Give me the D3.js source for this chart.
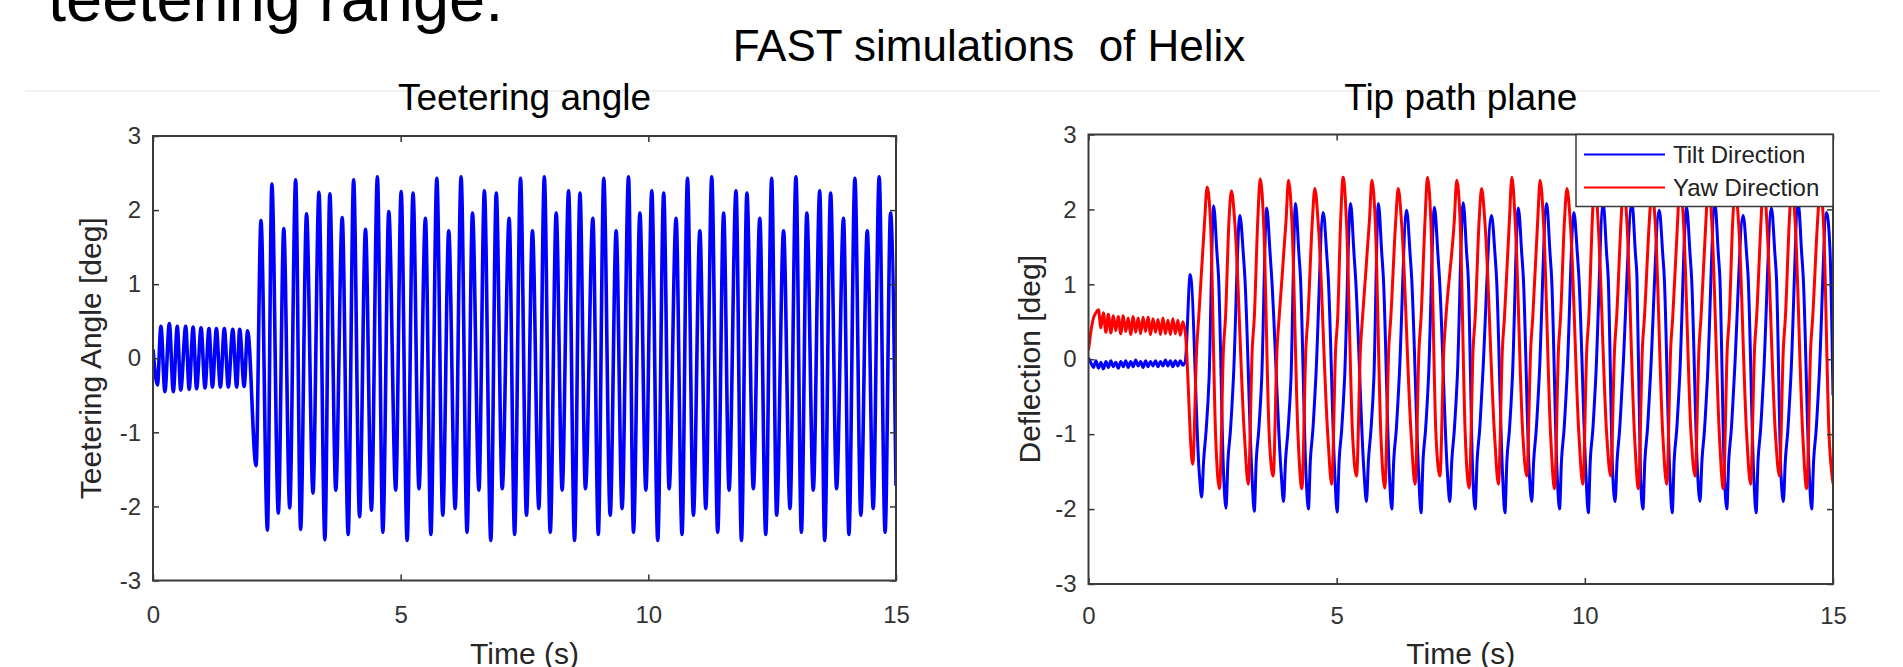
<!DOCTYPE html>
<html>
<head>
<meta charset="utf-8">
<script src="https://cdn.jsdelivr.net/npm/d3@7"></script>
<style>
  body { margin: 0; background: #fff; }
  svg { display: block; font-family: "Liberation Sans", Arial, sans-serif; }
</style>
</head>
<body>
<div id="chart"></div>
<script>
// axis ticks
const timeTicks = [0, 5, 10, 15];
const degTicks = [-3, -2, -1, 0, 1, 2, 3];

// teetering angle: read extrema (s, deg)
const teeterHighT = [0.00, 0.16, 0.33, 0.49, 0.66, 0.81, 0.97, 1.13, 1.28, 1.44, 1.61, 1.75, 1.91,
  2.18, 2.40, 2.64, 2.88, 3.10, 3.35, 3.57, 3.82, 4.05, 4.29, 4.53, 4.76,
  5.01, 5.25, 5.50, 5.73, 5.97, 6.22, 6.45, 6.69, 6.93, 7.19, 7.42, 7.66, 7.90, 8.14,
  8.39, 8.62, 8.88, 9.10, 9.35, 9.60, 9.83, 10.07, 10.31, 10.56, 10.79, 11.04, 11.28, 11.52,
  11.77, 11.99, 12.25, 12.49, 12.73, 12.98, 13.20, 13.46, 13.68, 13.94, 14.17, 14.42, 14.66, 14.89];
const teeterHighV = [0.12, 0.43, 0.47, 0.43, 0.43, 0.42, 0.41, 0.40, 0.40, 0.40, 0.39, 0.39, 0.37,
  1.86, 2.35, 1.75, 2.41, 1.95, 2.24, 2.22, 1.90, 2.41, 1.74, 2.45, 1.98,
  2.25, 2.23, 1.89, 2.43, 1.72, 2.45, 1.96, 2.26, 2.23, 1.89, 2.43, 1.72, 2.45, 1.96,
  2.26, 2.23, 1.89, 2.43, 1.72, 2.45, 1.96, 2.26, 2.23, 1.89, 2.43, 1.72, 2.45, 1.96,
  2.26, 2.23, 1.89, 2.43, 1.72, 2.45, 1.96, 2.26, 2.23, 1.89, 2.43, 1.72, 2.45, 1.96];
const teeterLowT = [0.09, 0.24, 0.41, 0.56, 0.73, 0.88, 1.05, 1.20, 1.36, 1.52, 1.69, 1.84,
  2.08, 2.31, 2.53, 2.76, 2.98, 3.23, 3.47, 3.69, 3.94, 4.17, 4.41, 4.64,
  4.90, 5.13, 5.37, 5.61, 5.85, 6.10, 6.34, 6.58, 6.82, 7.05, 7.30, 7.54, 7.79, 8.02,
  8.26, 8.51, 8.73, 8.99, 9.23, 9.47, 9.70, 9.95, 10.19, 10.42, 10.68, 10.91, 11.16, 11.40,
  11.63, 11.88, 12.12, 12.37, 12.59, 12.86, 13.09, 13.33, 13.56, 13.80, 14.05, 14.29, 14.54, 14.78, 15.00];
const teeterLowV = [-0.36, -0.45, -0.45, -0.43, -0.42, -0.41, -0.40, -0.39, -0.39, -0.39, -0.39, -0.38,
  -1.45, -2.32, -2.09, -2.02, -2.31, -1.82, -2.45, -1.78, -2.38, -2.14, -2.05, -2.35,
  -1.78, -2.46, -1.76, -2.38, -2.12, -2.03, -2.35, -1.78, -2.46, -1.76, -2.38, -2.12, -2.03, -2.35,
  -1.78, -2.46, -1.76, -2.38, -2.12, -2.03, -2.35, -1.78, -2.46, -1.76, -2.38, -2.12, -2.03, -2.35,
  -1.78, -2.46, -1.76, -2.38, -2.12, -2.03, -2.35, -1.78, -2.46, -1.76, -2.38, -2.12, -2.03, -2.35, -1.72];

// tip path plane, before the jump (noisy bands)
const startT = [0.00, 0.05, 0.10, 0.15, 0.20, 0.25, 0.30, 0.35, 0.40, 0.45, 0.50, 0.55, 0.60, 0.65,
  0.70, 0.75, 0.80, 0.85, 0.90, 0.95, 1.00, 1.05, 1.10, 1.15, 1.20, 1.25, 1.30, 1.35, 1.40, 1.45,
  1.50, 1.55, 1.60, 1.65, 1.70, 1.75, 1.80, 1.85, 1.90, 1.95];
const yawStartV = [0.12, 0.38, 0.55, 0.62, 0.66, 0.42, 0.62, 0.36, 0.60, 0.35, 0.58, 0.38, 0.57, 0.34,
  0.58, 0.37, 0.55, 0.33, 0.57, 0.36, 0.55, 0.34, 0.56, 0.37, 0.56, 0.33, 0.54, 0.36, 0.53, 0.33,
  0.55, 0.34, 0.52, 0.33, 0.54, 0.34, 0.52, 0.32, 0.50, 0.36];
const tiltStartV = [0.02, -0.05, -0.11, -0.02, -0.12, -0.04, -0.13, -0.03, -0.11, -0.02, -0.10, -0.04, -0.12, -0.03,
  -0.10, -0.02, -0.11, -0.03, -0.10, -0.01, -0.09, -0.03, -0.11, -0.02, -0.10, -0.03, -0.09, -0.02, -0.10, -0.03,
  -0.09, -0.01, -0.09, -0.02, -0.10, -0.02, -0.09, -0.02, -0.08, -0.03];

// tip path plane, extrema after the jump
const yawPeakT = [2.39, 2.88, 3.46, 4.03, 4.56, 5.13, 5.71, 6.24, 6.83, 7.42, 7.92, 8.53, 9.10, 9.64,
  10.20, 10.78, 11.35, 11.92, 12.49, 13.03, 13.60, 14.17, 14.74];
const yawPeakV = [2.30, 2.25, 2.41, 2.39, 2.28, 2.43, 2.39, 2.28, 2.43, 2.39, 2.28, 2.43, 2.39, 2.28,
  2.43, 2.39, 2.28, 2.43, 2.39, 2.28, 2.43, 2.39, 2.28];
const yawTroughT = [2.10, 2.64, 3.22, 3.72, 4.30, 4.90, 5.40, 5.97, 6.58, 7.08, 7.67, 8.26, 8.83, 9.39,
  9.96, 10.52, 11.08, 11.65, 12.22, 12.79, 13.34, 13.92, 14.47, 15.00];
const yawTroughV = [-1.40, -1.73, -1.67, -1.56, -1.73, -1.67, -1.56, -1.72, -1.67, -1.56, -1.72, -1.67, -1.56, -1.73,
  -1.67, -1.56, -1.73, -1.67, -1.56, -1.73, -1.67, -1.56, -1.73, -1.66];
const tiltPeakT = [2.05, 2.52, 3.05, 3.59, 4.17, 4.73, 5.28, 5.84, 6.41, 6.97, 7.55, 8.12, 8.66, 9.23,
  9.78, 10.37, 10.95, 11.50, 12.05, 12.62, 13.19, 13.76, 14.30, 14.87];
const tiltPeakV = [1.13, 2.05, 1.92, 2.02, 2.08, 1.96, 2.08, 2.08, 1.99, 2.03, 2.09, 1.92, 2.02, 2.08,
  1.96, 2.08, 2.08, 1.99, 2.03, 2.09, 1.92, 2.02, 2.08, 1.96];
const tiltTroughT = [2.28, 2.77, 3.34, 3.93, 4.43, 5.01, 5.60, 6.11, 6.70, 7.28, 7.79, 8.39, 8.93, 9.49,
  10.07, 10.61, 11.17, 11.76, 12.32, 12.86, 13.45, 14.00, 14.57, 15.00];
const tiltTroughV = [-1.84, -1.99, -2.03, -1.90, -2.00, -2.04, -1.90, -2.00, -2.05, -1.90, -2.00, -2.05, -1.90, -2.00,
  -2.05, -1.90, -2.00, -2.05, -1.90, -2.00, -2.05, -1.90, -2.00, -0.48];

// shoulders / kinks on each cycle (one row per cycle)
const yawKneeT = [
  2.18, 2.22, 2.34, 2.46, 2.56,   2.72, 2.76, 2.83, 2.95, 3.14,   3.30, 3.34, 3.41, 3.53, 3.64,
  3.80, 3.84, 3.98, 4.10, 4.22,   4.38, 4.42, 4.51, 4.63, 4.82,   4.98, 5.02, 5.08, 5.20, 5.32,
  5.48, 5.52, 5.66, 5.78, 5.89,   6.05, 6.09, 6.19, 6.31, 6.50,   6.66, 6.70, 6.78, 6.90, 7.00,
  7.16, 7.20, 7.37, 7.49, 7.59,   7.75, 7.79, 7.87, 7.99, 8.18,   8.34, 8.38, 8.48, 8.60, 8.75,
  8.91, 8.95, 9.05, 9.17, 9.31,   9.47, 9.51, 9.59, 9.71, 9.88,   10.04, 10.08, 10.15, 10.27, 10.44,
  10.60, 10.64, 10.73, 10.85, 11.00,   11.16, 11.20, 11.30, 11.42, 11.57,   11.73, 11.77, 11.87, 11.99, 12.14,
  12.30, 12.34, 12.44, 12.56, 12.71,   12.87, 12.91, 12.98, 13.10, 13.26,   13.42, 13.46, 13.55, 13.67, 13.84,
  14.00, 14.04, 14.12, 14.24, 14.39,   14.55, 14.59, 14.69, 14.81, 14.92];
const yawKneeV = [
  0.15, 0.55, 1.85, 1.80, -1.00,   0.15, 0.55, 1.85, 1.80, -1.00,   0.15, 0.55, 1.85, 1.80, -1.00,
  0.15, 0.55, 1.85, 1.80, -1.00,   0.15, 0.55, 1.85, 1.80, -1.00,   0.15, 0.55, 1.85, 1.80, -1.00,
  0.15, 0.55, 1.85, 1.80, -1.00,   0.15, 0.55, 1.85, 1.80, -1.00,   0.15, 0.55, 1.85, 1.80, -1.00,
  0.15, 0.55, 1.85, 1.80, -1.00,   0.15, 0.55, 1.85, 1.80, -1.00,   0.15, 0.55, 1.85, 1.80, -1.00,
  0.15, 0.55, 1.85, 1.80, -1.00,   0.15, 0.55, 1.85, 1.80, -1.00,   0.15, 0.55, 1.85, 1.80, -1.00,
  0.15, 0.55, 1.85, 1.80, -1.00,   0.15, 0.55, 1.85, 1.80, -1.00,   0.15, 0.55, 1.85, 1.80, -1.00,
  0.15, 0.55, 1.85, 1.80, -1.00,   0.15, 0.55, 1.85, 1.80, -1.00,   0.15, 0.55, 1.85, 1.80, -1.00,
  0.15, 0.55, 1.85, 1.80, -1.00,   0.15, 0.55, 1.85, 1.80, -1.00];
const tiltKneeT = [2.23,
  2.32, 2.37, 2.43, 2.59, 2.62, 2.72,   2.81, 2.86, 2.92, 3.12, 3.15, 3.29,   3.38, 3.43, 3.49, 3.66, 3.69, 3.88,
  3.97, 4.02, 4.08, 4.24, 4.27, 4.38,   4.47, 4.52, 4.58, 4.80, 4.83, 4.96,   5.05, 5.10, 5.16, 5.35, 5.38, 5.55,
  5.64, 5.69, 5.75, 5.91, 5.94, 6.06,   6.15, 6.20, 6.26, 6.48, 6.51, 6.65,   6.74, 6.79, 6.85, 7.04, 7.07, 7.23,
  7.32, 7.37, 7.43, 7.62, 7.65, 7.74,   7.83, 7.88, 7.94, 8.19, 8.22, 8.34,   8.43, 8.48, 8.54, 8.73, 8.76, 8.88,
  8.97, 9.02, 9.08, 9.30, 9.33, 9.44,   9.53, 9.58, 9.64, 9.85, 9.88, 10.02,   10.11, 10.16, 10.22, 10.44, 10.47, 10.56,
  10.65, 10.70, 10.76, 11.02, 11.05, 11.12,   11.21, 11.26, 11.32, 11.57, 11.60, 11.71,   11.80, 11.85, 11.91, 12.12, 12.15, 12.27,
  12.36, 12.41, 12.47, 12.69, 12.72, 12.81,   12.90, 12.95, 13.01, 13.26, 13.29, 13.40,   13.49, 13.54, 13.60, 13.83, 13.86, 13.95,
  14.04, 14.09, 14.15, 14.37, 14.40, 14.52,   14.61, 14.66, 14.72, 14.94];
const tiltKneeV = [-1.50,
  -1.35, -0.95, -0.25, 1.40, 1.10, -1.50,   -1.35, -0.95, -0.25, 1.40, 1.10, -1.50,   -1.35, -0.95, -0.25, 1.40, 1.10, -1.50,
  -1.35, -0.95, -0.25, 1.40, 1.10, -1.50,   -1.35, -0.95, -0.25, 1.40, 1.10, -1.50,   -1.35, -0.95, -0.25, 1.40, 1.10, -1.50,
  -1.35, -0.95, -0.25, 1.40, 1.10, -1.50,   -1.35, -0.95, -0.25, 1.40, 1.10, -1.50,   -1.35, -0.95, -0.25, 1.40, 1.10, -1.50,
  -1.35, -0.95, -0.25, 1.40, 1.10, -1.50,   -1.35, -0.95, -0.25, 1.40, 1.10, -1.50,   -1.35, -0.95, -0.25, 1.40, 1.10, -1.50,
  -1.35, -0.95, -0.25, 1.40, 1.10, -1.50,   -1.35, -0.95, -0.25, 1.40, 1.10, -1.50,   -1.35, -0.95, -0.25, 1.40, 1.10, -1.50,
  -1.35, -0.95, -0.25, 1.40, 1.10, -1.50,   -1.35, -0.95, -0.25, 1.40, 1.10, -1.50,   -1.35, -0.95, -0.25, 1.40, 1.10, -1.50,
  -1.35, -0.95, -0.25, 1.40, 1.10, -1.50,   -1.35, -0.95, -0.25, 1.40, 1.10, -1.50,   -1.35, -0.95, -0.25, 1.40, 1.10, -1.50,
  -1.35, -0.95, -0.25, 1.40, 1.10, -1.50,   -1.35, -0.95, -0.25, 1.45];

const legendLabels = ["Tilt Direction", "Yaw Direction"];


function vertices(tLists, vLists) {
    const pts = [];
    tLists.forEach((ts, k) => ts.forEach((t, i) => pts.push([t, vLists[k][i]])));
    return pts.sort((a, b) => a[0] - b[0]);
}

const teeterPts = vertices([teeterHighT, teeterLowT], [teeterHighV, teeterLowV]);
const tiltPts = vertices([startT, tiltPeakT, tiltTroughT, tiltKneeT], [tiltStartV, tiltPeakV, tiltTroughV, tiltKneeV]);
const yawPts = vertices([startT, yawPeakT, yawTroughT, yawKneeT], [yawStartV, yawPeakV, yawTroughV, yawKneeV]);

const width = 1903;
const height = 667;

const svg = d3.select("#chart")
    .append("svg")
    .attr("width", width)
    .attr("height", height);

svg.append("rect").attr("width", width).attr("height", height).attr("fill", "#fff");

// slide text cut at the top
svg.append("text")
    .attr("x", 48)
    .attr("y", 21)
    .attr("font-size", 65)
    .attr("fill", "#000")
    .text("teetering range.");

svg.append("line")
    .attr("x1", 25).attr("x2", 1880)
    .attr("y1", 91).attr("y2", 91)
    .attr("stroke", "#ededed")
    .attr("stroke-width", 1.5);

svg.append("text")
    .attr("x", 989)
    .attr("y", 61)
    .attr("text-anchor", "middle")
    .attr("font-size", 44)
    .style("white-space", "pre")
    .attr("fill", "#000")
    .text("FAST simulations  of Helix");

const panels = [
    {
        id: "teeter", left: 153, right: 896, top: 136, bottom: 580.5,
        xPad: 25, title: "Teetering angle", ylabel: "Teetering Angle [deg]", ylabelX: 101,
        series: [{ pts: teeterPts, color: "#0000ff", width: 3.6 }]
    },
    {
        id: "tip", left: 1088.5, right: 1833, top: 134.5, bottom: 584,
        xPad: 23, title: "Tip path plane", ylabel: "Deflection [deg]", ylabelX: 1040,
        series: [
            { pts: tiltPts, color: "#0000ff", width: 3 },
            { pts: yawPts, color: "#ff0000", width: 3 }
        ],
        legend: true
    }
];

panels.forEach(p => {
    const x = d3.scaleLinear().domain([0, 15]).range([p.left, p.right]);
    const y = d3.scaleLinear().domain([-3, 3]).range([p.bottom, p.top]);
    const cx = (p.left + p.right) / 2;

    svg.append("clipPath")
        .attr("id", "clip-" + p.id)
        .append("rect")
        .attr("x", p.left).attr("y", p.top)
        .attr("width", p.right - p.left).attr("height", p.bottom - p.top);

    const line = d3.line()
        .x(d => x(d[0]))
        .y(d => y(d[1]))
        .curve(d3.curveMonotoneX);

    svg.append("g")
        .attr("clip-path", `url(#clip-${p.id})`)
        .selectAll("path")
        .data(p.series)
        .join("path")
        .attr("d", d => line(d.pts))
        .attr("fill", "none")
        .attr("stroke", d => d.color)
        .attr("stroke-width", d => d.width)
        .attr("stroke-linejoin", "round");

    const styleAxis = g => {
        g.attr("font-size", 24)
            .attr("font-family", null)
            .attr("color", "#333");
        g.select(".domain").remove();
        g.selectAll(".tick line").attr("stroke-width", 1.5);
    };

    svg.append("g")
        .attr("transform", `translate(0,${p.bottom})`)
        .call(d3.axisBottom(x).tickValues(timeTicks).tickSize(-6).tickPadding(p.xPad).tickFormat(d => String(d)))
        .call(styleAxis);
    svg.append("g")
        .attr("transform", `translate(0,${p.top})`)
        .call(d3.axisTop(x).tickValues(timeTicks).tickSize(-6).tickFormat(""))
        .call(styleAxis);
    svg.append("g")
        .attr("transform", `translate(${p.left},0)`)
        .call(d3.axisLeft(y).tickValues(degTicks).tickSize(-6).tickPadding(12).tickFormat(d => String(d)))
        .call(styleAxis);
    svg.append("g")
        .attr("transform", `translate(${p.right},0)`)
        .call(d3.axisRight(y).tickValues(degTicks).tickSize(-6).tickFormat(""))
        .call(styleAxis);

    svg.append("rect")
        .attr("x", p.left).attr("y", p.top)
        .attr("width", p.right - p.left).attr("height", p.bottom - p.top)
        .attr("fill", "none")
        .attr("stroke", "#3a3a3a")
        .attr("stroke-width", 2);

    svg.append("text")
        .attr("x", cx).attr("y", 110)
        .attr("text-anchor", "middle")
        .attr("font-size", 37)
        .attr("fill", "#000")
        .text(p.title);

    svg.append("text")
        .attr("x", cx).attr("y", 664)
        .attr("text-anchor", "middle")
        .attr("font-size", 30)
        .attr("fill", "#262626")
        .text("Time (s)");

    svg.append("text")
        .attr("transform", `translate(${p.ylabelX},${(p.top + p.bottom) / 2}) rotate(-90)`)
        .attr("text-anchor", "middle")
        .attr("font-size", 30)
        .attr("fill", "#262626")
        .text(p.ylabel);

    if (p.legend) {
        const lg = svg.append("g").attr("transform", `translate(${p.right - 257},${p.top})`);
        lg.append("rect")
            .attr("width", 257).attr("height", 72)
            .attr("fill", "#fff")
            .attr("stroke", "#3a3a3a")
            .attr("stroke-width", 1.5);
        const item = lg.selectAll("g")
            .data(p.series)
            .join("g")
            .attr("transform", (d, i) => `translate(0,${20 + i * 33})`);
        item.append("line")
            .attr("x1", 8).attr("x2", 89)
            .attr("stroke", d => d.color)
            .attr("stroke-width", 2);
        item.append("text")
            .attr("x", 97).attr("dy", "0.36em")
            .attr("font-size", 24)
            .attr("fill", "#222")
            .text((d, i) => legendLabels[i]);
    }
});
</script>
</body>
</html>
